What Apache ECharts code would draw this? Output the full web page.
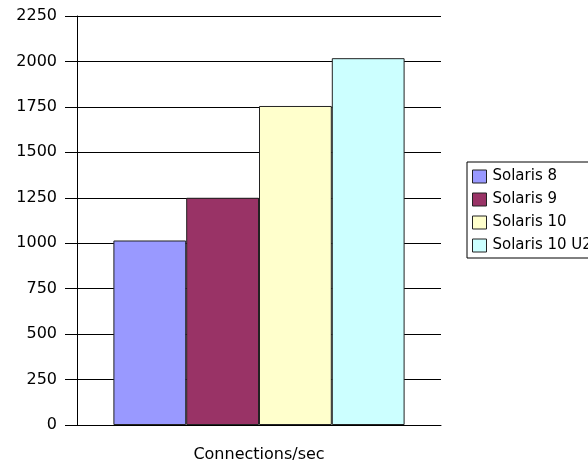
<!DOCTYPE html>
<html>
<head>
<meta charset="utf-8">
<script src="https://cdn.jsdelivr.net/npm/echarts@6/dist/echarts.min.js"></script>
<style>
  html, body { margin: 0; padding: 0; background: #fff; }
  #chart { width: 588px; height: 464px; }
</style>
</head>
<body>
<div id="chart"></div>
<script>
// 数据
const categories = ['Connections/sec'];
const seriesNames = ['Solaris 8', 'Solaris 9', 'Solaris 10', 'Solaris 10 U2'];
const seriesValues = [[1015], [1250], [1755], [2018]];
const seriesColors = ['#9999ff', '#993366', '#ffffcc', '#ccffff'];

const chart = echarts.init(document.getElementById('chart'));

const series = seriesNames.map((name, i) => {
  return {
    name: name,
    type: 'bar',
    data: seriesValues[i],
    barGap: '0%',
    barCategoryGap: '20%',
    itemStyle: {
      color: seriesColors[i],
      borderColor: '#222',
      borderWidth: 1
    }
  };
});

chart.setOption({
  animation: false,
  textStyle: { fontFamily: 'DejaVu Sans' },
  grid: {
    left: 77,
    right: 147,
    top: 16,
    bottom: 39
  },
  legend: {
    orient: 'vertical',
    left: 467,
    top: 162,
    data: seriesNames,
    icon: 'rect',
    itemWidth: 14,
    itemHeight: 13,
    itemGap: 8,
    padding: [7, 40, 5, 5],
    borderColor: '#000',
    borderWidth: 1,
    textStyle: { fontSize: 15, color: '#000', padding: [0, 0, 0, 1] },
    itemStyle: { borderColor: '#222', borderWidth: 1 }
  },
  xAxis: {
    type: 'category',
    data: categories,
    axisLine: { lineStyle: { color: '#000' } },
    axisTick: { show: false },
    axisLabel: { fontSize: 16, color: '#000', margin: 22 }
  },
  yAxis: {
    type: 'value',
    min: 0,
    max: 2250,
    interval: 250,
    axisLine: { show: true, lineStyle: { color: '#000' } },
    axisTick: { show: true, length: 12, lineStyle: { color: '#000' } },
    axisLabel: { fontSize: 16, color: '#000', margin: 20, formatter: v => String(v) },
    splitLine: { lineStyle: { color: '#000' } }
  },
  series: series
});
</script>
</body>
</html>
